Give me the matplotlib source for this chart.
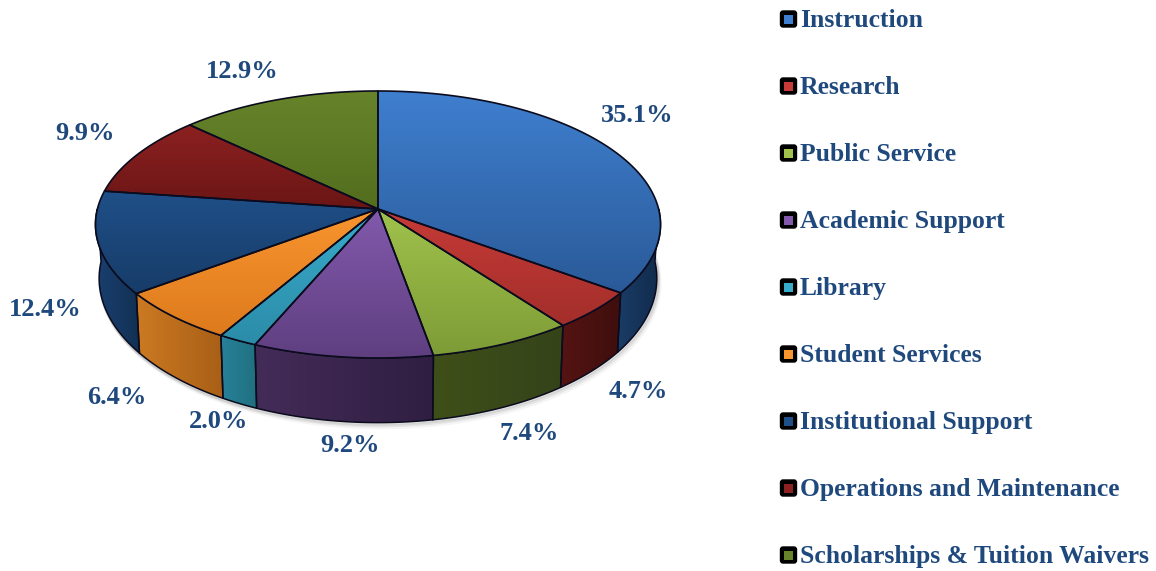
import numpy as np
import matplotlib
matplotlib.use('Agg')
import matplotlib.pyplot as plt
from matplotlib.patches import Polygon, FancyBboxPatch, Rectangle

categories = ['Instruction', 'Research', 'Public Service', 'Academic Support', 'Library',
              'Student Services', 'Institutional Support', 'Operations and Maintenance',
              'Scholarships & Tuition Waivers']
shares = [35.1, 4.7, 7.4, 9.2, 2.0, 6.4, 12.4, 9.9, 12.9]

top_light = ['#3F7FCF', '#C63B37', '#A0C24C', '#8259AC', '#39ABCB', '#F9952F', '#1F4F88', '#8C2121', '#67842B']
top_dark = ['#2A5A98', '#A32E2B', '#7E9C36', '#5F3F80', '#2B8CA8', '#DD7A1C', '#173C68', '#6B1515', '#526E1E']
side_light = ['#1A3C66', '#541413', '#3F4F18', '#442C58', '#27819A', '#CC7A22', '#1A4070', '#5A1212', '#45591A']
side_dark = ['#102A4A', '#3E0E0D', '#35431A', '#2F1E42', '#20707F', '#A85F16', '#123054', '#4A0E0E', '#38491A']

text_color = '#1F497D'
edge = '#0B0B1E'

# disc projection
cx, cy = 378.0, 209.0
a, b, k = 280.6, 131.7, 0.116

label_pos = [(637, 115), (638, 391), (529, 433), (350, 445), (219, 422),
             (117, 398), (45, 309), (85, 134), (242, 72)]


def top_xy(t):
    X, Y = np.sin(t), np.cos(t)
    d = 1 + k * Y
    return cx + a * X / d, cy - b * Y / d


def bottom_xy(t):
    x, y = top_xy(t)
    return cx + 0.987 * (x - cx), y + 36 + 0.08 * y


def grad_fill(ax, poly_xy, c1, c2, extent, horizontal=False, zorder=2):
    c1 = np.array(matplotlib.colors.to_rgb(c1))
    c2 = np.array(matplotlib.colors.to_rgb(c2))
    s = np.linspace(0, 1, 128)[:, None]
    img = (c1 * (1 - s) + c2 * s)[:, None, :]
    if horizontal:
        img = img.transpose(1, 0, 2)
    im = ax.imshow(img, extent=extent, aspect='auto', zorder=zorder, interpolation='bilinear')
    poly = Polygon(poly_xy, closed=True, transform=ax.transData, fc='none', ec='none')
    ax.add_patch(poly)
    im.set_clip_path(poly)


fig = plt.figure(figsize=(11.56, 5.71), dpi=100)
ax = fig.add_axes([0, 0, 1, 1])

edges = np.radians(np.cumsum([0] + shares) * 3.6)

# soft shadow under the near rim
tt = np.radians(np.linspace(80, 280, 200))
sx, sy = bottom_xy(tt)
for off, al in [(1.5, 0.10), (3, 0.07), (5, 0.04)]:
    ax.plot(sx + off * 0.6, sy + off, color='#000000', alpha=al, lw=2.5, zorder=1)

# walls
for i in range(len(shares)):
    t0, t1 = max(edges[i], np.radians(90)), min(edges[i + 1], np.radians(270))
    if t1 <= t0:
        continue
    t = np.linspace(t0, t1, 80)
    xt, yt = top_xy(t)
    xb, yb = bottom_xy(t)
    pts = np.column_stack([np.r_[xt, xb[::-1]], np.r_[yt, yb[::-1]]])
    ext = (pts[:, 0].min(), pts[:, 0].max(), 440, 200)
    grad_fill(ax, pts, side_light[i], side_dark[i], ext, horizontal=True, zorder=2)
    ax.add_patch(Polygon(pts, closed=True, fc='none', ec=edge, lw=1.1, zorder=3))

# top face, gradient runs over each slice's own height
for i in range(len(shares)):
    t = np.linspace(edges[i], edges[i + 1], 120)
    xt, yt = top_xy(t)
    pts = np.column_stack([np.r_[cx, xt], np.r_[cy, yt]])
    ext = (pts[:, 0].min(), pts[:, 0].max(), pts[:, 1].max(), pts[:, 1].min())
    grad_fill(ax, pts, top_light[i], top_dark[i], ext, zorder=4)
    ax.add_patch(Polygon(pts, closed=True, fc='none', ec=edge, lw=1.2, joinstyle='round', zorder=5))

for (lx, ly), v in zip(label_pos, shares):
    ax.text(lx, ly, f'{v:.1f}%', color=text_color, fontsize=19, fontweight='bold',
            family='Liberation Serif', ha='center', va='center', zorder=6)

# legend
for i, name in enumerate(categories):
    y = 19 + i * 67.0
    ax.add_patch(FancyBboxPatch((780.5, y - 8), 16, 16, boxstyle='round,pad=0,rounding_size=2.5',
                                fc='#000000', ec='#000000', lw=1, zorder=6))
    ax.add_patch(Rectangle((784, y - 4.5), 9, 9, fc=top_light[i], ec='none', zorder=7))
    ax.text(800, y + 1.5, name, color=text_color, fontsize=18.45, fontweight='bold',
            family='Liberation Serif', ha='left', va='center', zorder=6)

ax.set_xlim(0, 1156)
ax.set_ylim(571, 0)
ax.axis('off')
fig.savefig('out.png', dpi=100, facecolor='white')
